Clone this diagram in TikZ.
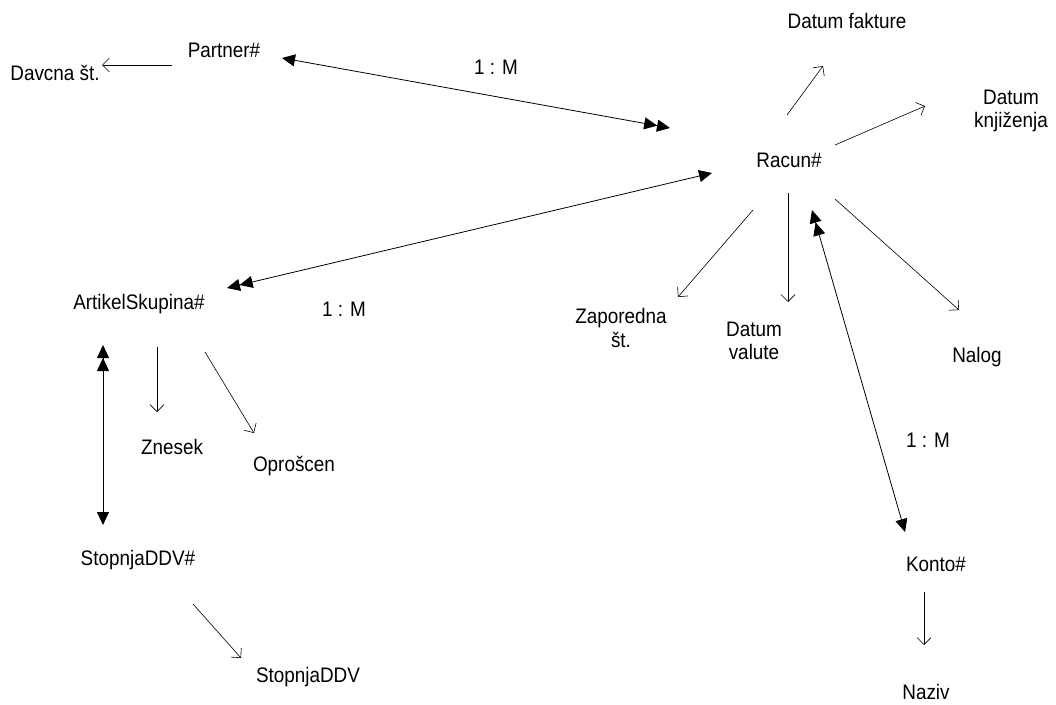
\documentclass[tikz,border=0pt]{standalone}
\usepackage{fontspec}
\setmainfont{Liberation Sans}[FakeStretch=0.9]
\usetikzlibrary{arrows.meta}
\tikzset{
  oneT/.tip={Triangle[length=13pt,width=12pt]},
  manyT/.tip={Triangle[length=13pt,width=12pt,sep=0pt]Triangle[length=13pt,width=12pt]},
  openT/.tip={Straight Barb[length=7pt,width=14pt,line width=0.6pt]}
}
\begin{document}
\begin{tikzpicture}[x=1pt,y=-1pt,
  lbl/.style={inner sep=0pt,align=center,font=\fontsize{21}{23.5}\selectfont},
  attr/.style={line width=0.6pt,-openT},
  rel/.style={line width=0.8pt}
]
\useasboundingbox (0,0) rectangle (1056,704);
% nodes
\node[lbl] (partner) at (224,50) {Partner\#};
\node[lbl] (davcna) at (55,73) {Davcna št.};
\node[lbl] (racun) at (789,160) {Racun\#};
\node[lbl] (fakt) at (847,21) {Datum fakture};
\node[lbl] (knjiz) at (1011,111) {Datum\\knjiženja};
\node[lbl] (zap) at (621,328) {Zaporedna\\št.};
\node[lbl] (valute) at (754,341) {Datum\\valute};
\node[lbl] (nalog) at (977,357) {Nalog};
\node[lbl] (artikel) at (139,304) {ArtikelSkupina\#};
\node[lbl] (znesek) at (172,447) {Znesek};
\node[lbl] (oprosc) at (294,466) {Oprošcen};
\node[lbl] (stopnjak) at (138,560) {StopnjaDDV\#};
\node[lbl] (stopnja) at (308,677) {StopnjaDDV};
\node[lbl] (konto) at (936,564) {Konto\#};
\node[lbl] (naziv) at (926,692) {Naziv};
\node[lbl] (m1) at (496,67) {1 : M};
\node[lbl] (m2) at (344,309) {1 : M};
\node[lbl] (m3) at (928,440) {1 : M};
% connector end points
\coordinate (pD1) at (172,65);  \coordinate (pD2) at (102,65);
\coordinate (pR1) at (282,58);  \coordinate (pR2) at (670,128);
\coordinate (rF1) at (787,115); \coordinate (rF2) at (823,66);
\coordinate (rK1) at (835,145); \coordinate (rK2) at (925,106);
\coordinate (rA1) at (712,173); \coordinate (rA2) at (227,288);
\coordinate (rZ1) at (753,210); \coordinate (rZ2) at (678,297);
\coordinate (rV1) at (788,193); \coordinate (rV2) at (788,302);
\coordinate (rN1) at (835,199); \coordinate (rN2) at (959,310);
\coordinate (rC1) at (812,210); \coordinate (rC2) at (905,532);
\coordinate (aS1) at (103,345); \coordinate (aS2) at (103,525);
\coordinate (aZ1) at (157,347); \coordinate (aZ2) at (157,412);
\coordinate (aO1) at (205,352); \coordinate (aO2) at (254,433);
\coordinate (sS1) at (193,604); \coordinate (sS2) at (241,658);
\coordinate (kN1) at (924,592); \coordinate (kN2) at (924,645);
% attribute arrows
\draw[attr] (pD1) -- (pD2);
\draw[attr] (rF1) -- (rF2);
\draw[attr] (rK1) -- (rK2);
\draw[attr] (rZ1) -- (rZ2);
\draw[attr] (rV1) -- (rV2);
\draw[attr] (rN1) -- (rN2);
\draw[attr] (aZ1) -- (aZ2);
\draw[attr] (aO1) -- (aO2);
\draw[attr] (sS1) -- (sS2);
\draw[attr] (kN1) -- (kN2);
% relationships
\draw[rel,oneT-manyT] (pR1) -- (pR2);
\draw[rel,manyT-oneT] (rA2) -- (rA1);
\draw[rel,manyT-oneT] (rC1) -- (rC2);
\draw[rel,manyT-oneT] (aS1) -- (aS2);
\end{tikzpicture}
\end{document}
